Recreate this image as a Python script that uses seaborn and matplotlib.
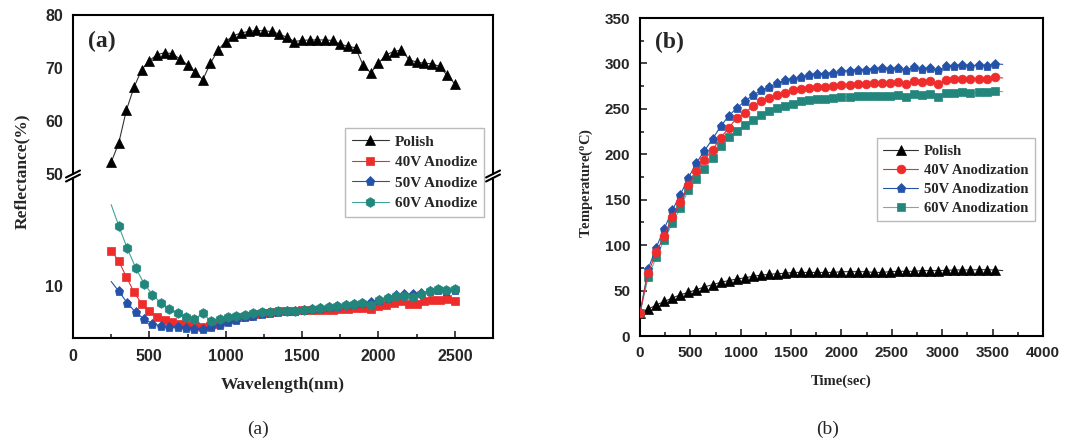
import matplotlib
matplotlib.use("Agg")
import matplotlib.pyplot as plt
import seaborn as sns
import pandas as pd
from matplotlib.lines import Line2D
from matplotlib.ticker import MultipleLocator, FixedLocator

# ---------------- data: panel (a) reflectance ----------------
wl_polish = list(range(250, 2501, 50))
refl_polish = [52.2, 55.9, 62.1, 66.4, 69.7, 71.4, 72.5, 72.9, 72.7, 71.7,
               70.6, 69.2, 67.8, 70.9, 73.4, 75.0, 76.1, 76.6, 76.9, 77.1,
               77.0, 76.9, 76.4, 75.8, 75.0, 75.2, 75.3, 75.3, 75.3, 75.2,
               74.5, 74.1, 73.8, 70.5, 69.1, 70.9, 72.5, 73.1, 73.4, 71.6,
               71.1, 70.9, 70.8, 70.3, 68.6, 67.0]
wl_40 = list(range(250, 2501, 50))
refl_40 = [13.3, 12.3, 10.8, 9.4, 8.3, 7.6, 7.06, 6.75, 6.56, 6.4,
           6.28, 6.2, 6.1, 6.2, 6.4, 6.66, 6.9, 7.03, 7.2, 7.34,
           7.44, 7.53, 7.6, 7.63, 7.66, 7.7, 7.7, 7.72, 7.75, 7.75,
           7.8, 7.84, 7.9, 7.9, 7.8, 8.06, 8.2, 8.4, 8.53, 8.3,
           8.3, 8.53, 8.62, 8.62, 8.75, 8.53]
wl_5060 = [250] + list(range(300, 2501, 55))
refl_50 = [10.4, 9.47, 8.4, 7.5, 6.9, 6.44, 6.25, 6.1, 6.1, 6.03, 5.97,
           5.97, 6.1, 6.3, 6.56, 6.8, 7.03, 7.2, 7.34, 7.44, 7.53,
           7.6, 7.66, 7.75, 7.8, 7.9, 7.97, 8.1, 8.2, 8.3, 8.4,
           8.44, 8.7, 8.84, 9.16, 9.2, 9.2, 9.3, 9.47, 9.6, 9.53, 9.6]
refl_60 = [17.6, 15.6, 13.5, 11.7, 10.2, 9.16, 8.4, 7.8, 7.4, 7.06, 6.9,
           7.4, 6.66, 6.9, 7.06, 7.2, 7.3, 7.4, 7.5, 7.56, 7.6,
           7.6, 7.66, 7.75, 7.84, 7.9, 8.0, 8.1, 8.2, 8.3, 8.4,
           8.2, 8.7, 8.84, 9.0, 9.0, 8.9, 9.25, 9.47, 9.7, 9.56, 9.7]

# ---------------- data: panel (b) temperature ----------------
time_s = list(range(0, 3601, 80))
temp_polish = [25, 29.5, 34, 38, 41.7, 45.4, 48, 51, 54, 56.5, 59, 61, 62.7,
               64, 65.7, 67, 67.8, 68.6, 69, 70, 70, 70, 70, 70, 70, 70.8,
               70.8, 70.8, 70.8, 70, 70, 70.8, 71.2, 71.2, 71.2, 72, 72, 72,
               72.3, 72.7, 72.7, 72.7, 73, 73, 72.7, 72]
temp_40 = [25, 69, 92, 110.4, 131, 147.5, 166, 181.5, 194, 205, 218, 229,
           240, 245.5, 252.8, 258.3, 262, 265.6, 267.4, 270.4, 271.8, 272.9,
           274, 274, 275.5, 275.9, 276.6, 277.7, 277.7, 278.4, 278.4, 278.4,
           279.2, 277.3, 280.3, 279.2, 280.3, 277.3, 282.1, 282.8, 283.2,
           282.8, 283.2, 283.2, 284.7, 284]
temp_50 = [25, 73.4, 97.2, 117.8, 138.3, 155.5, 174, 190.4, 204, 216.8,
           230.7, 242.1, 250.9, 258.3, 264.9, 270.4, 274, 278.4, 281.4,
           283.2, 285, 286.9, 288.7, 288.3, 289.4, 291.3, 292, 293.1, 293.1,
           293.9, 295, 294.2, 295, 292.4, 295.7, 294.2, 295, 292.4, 296.8,
           297.5, 298.3, 297.5, 297.9, 297.5, 299.4, 299]
temp_60 = [25, 64.6, 86.6, 105.7, 124, 140.8, 161, 172.8, 184, 196, 208.7,
           218.6, 226, 232.6, 238.1, 243.7, 247.2, 250.9, 253.5, 255.7,
           258.3, 260.1, 260.8, 260.8, 261.9, 263, 263, 263.8, 263.8, 264.5,
           264.5, 263.8, 265.6, 263, 266.3, 265.6, 266.3, 263, 267.4, 267.4,
           268.2, 267.4, 268.2, 268.2, 269.3, 269]

labels_a = ["Polish", "40V Anodize", "50V Anodize", "60V Anodize"]
labels_b = ["Polish", "40V Anodization", "50V Anodization", "60V Anodization"]
xticks_a = [0, 500, 1000, 1500, 2000, 2500]
yticks_a_top = [50, 60, 70, 80]
yticks_a_bot = [10]
xticks_b = [0, 500, 1000, 1500, 2000, 2500, 3000, 3500, 4000]
yticks_b = [0, 50, 100, 150, 200, 250, 300, 350]

# ---------------- style ----------------
sns.set_theme(style="white")
plt.rcParams["font.family"] = ["Liberation Sans", "DejaVu Sans"]
plt.rcParams["font.weight"] = "bold"
plt.rcParams["axes.linewidth"] = 1.5
SERIF = ["Liberation Serif", "DejaVu Serif"]

BLACK = "#000000"
RED = "#EE2C2C"
BLUE = "#2352A8"
TEAL = "#23867C"

W, H = 1087, 443
fig = plt.figure(figsize=(W / 100, H / 100), dpi=100)
fig.patch.set_facecolor("white")


def fx(px):
    return px / W


def fy(py):
    return 1 - py / H


def rect(l, t, r, b):
    return [fx(l), fy(b), (r - l) / W, (b - t) / H]


ax_top = fig.add_axes(rect(73, 15, 493, 174))
ax_bot = fig.add_axes(rect(73, 178, 493, 338))
ax_b = fig.add_axes(rect(640, 18, 1043, 336))


def draw(ax, x, y, color, marker, ms, z, lw=0.8, markevery=None, lc=None):
    kw = {}
    if markevery is not None:
        kw["markevery"] = markevery
    sns.lineplot(x=x, y=y, ax=ax, color=lc or color, marker=marker,
                 markersize=ms, markerfacecolor=color, markeredgecolor=color,
                 markeredgewidth=0.5, linewidth=lw, sort=False,
                 errorbar=None, zorder=z, **kw)
    return ax.lines[-1]


# ---- panel (a)
h_pol = draw(ax_top, wl_polish, refl_polish, BLACK, "^", 7, 3, lc="#333333")
h_40 = draw(ax_bot, wl_40, refl_40, RED, "s", 5.8, 3)
h_50 = draw(ax_bot, wl_5060, refl_50, BLUE, "p", 6.8, 4,
            markevery=list(range(1, len(wl_5060))))
h_60 = draw(ax_bot, wl_5060, refl_60, TEAL, "h", 7, 5,
            markevery=list(range(1, len(wl_5060))), lc="#3FA39A")

for ax in (ax_top, ax_bot):
    ax.set_xlim(0, 2750)
    ax.set_xlabel("")
    ax.set_ylabel("")
    ax.tick_params(which="both", direction="in", width=1.2, labelsize=11.5,
                   pad=7, top=False, right=False)
    ax.tick_params(which="major", length=5)
    ax.tick_params(which="minor", length=3)

ax_top.set_ylim(50, 80)
ax_top.yaxis.set_major_locator(FixedLocator(yticks_a_top))
ax_top.yaxis.set_minor_locator(MultipleLocator(5))
ax_top.spines["bottom"].set_visible(False)
ax_top.tick_params(which="both", bottom=False, labelbottom=False)

ax_bot.set_ylim(5.1, 20.1)
ax_bot.yaxis.set_major_locator(FixedLocator(yticks_a_bot))
ax_bot.yaxis.set_minor_locator(FixedLocator([15]))
ax_bot.spines["top"].set_visible(False)
ax_bot.xaxis.set_major_locator(FixedLocator(xticks_a))
ax_bot.xaxis.set_minor_locator(MultipleLocator(250))
ax_bot.tick_params(axis="x", which="both", bottom=True, pad=8)

for ax in (ax_top, ax_bot):
    for sp in ax.spines.values():
        sp.set_linewidth(1.5)
        sp.set_color("black")

# break marks
for xb, yb_top, yb_bot in ((73, 174, 178), (493, 174, 178)):
    for yy in (yb_top, yb_bot):
        fig.add_artist(Line2D([fx(xb - 7), fx(xb + 7)], [fy(yy + 3.5), fy(yy - 3.5)],
                              transform=fig.transFigure, color="black", lw=1.5))

fig.legend(handles=[h_pol, h_40, h_50, h_60], labels=labels_a,
           loc="upper right", bbox_to_anchor=(fx(484), fy(128)),
           bbox_transform=fig.transFigure, borderaxespad=0,
           prop={"family": SERIF, "weight": "bold", "size": 11},
           frameon=True, fancybox=False, edgecolor="#AAAAAA",
           handlelength=2.4, labelspacing=0.45, borderpad=0.45,
           handletextpad=0.4)

fig.text(fx(22), fy(171), "Reflectance(%)", rotation=90, ha="center",
         va="center", family=SERIF, weight="bold", fontsize=12.5)
fig.text(fx(283), fy(385), "Wavelength(nm)", ha="center", va="center",
         family=SERIF, weight="bold", fontsize=12.5)
fig.text(fx(88), fy(41), "(a)", ha="left", va="center", family=SERIF,
         weight="bold", fontsize=17)

# ---- panel (b)
nb = len(time_s)
evb = list(range(nb - 1))
g_pol = draw(ax_b, time_s, temp_polish, BLACK, "^", 6.5, 2, markevery=evb,
             lc="#333333")
g_60 = draw(ax_b, time_s, temp_60, TEAL, "s", 5.5, 3, markevery=evb,
            lc="#5FB5AD")
g_50 = draw(ax_b, time_s, temp_50, BLUE, "p", 6.8, 4, markevery=evb)
g_40 = draw(ax_b, time_s, temp_40, RED, "o", 6.3, 5, markevery=evb)

ax_b.set_xlim(0, 4000)
ax_b.set_ylim(0, 350)
ax_b.set_xlabel("")
ax_b.set_ylabel("")
ax_b.xaxis.set_major_locator(FixedLocator(xticks_b))
ax_b.xaxis.set_minor_locator(MultipleLocator(250))
ax_b.yaxis.set_major_locator(FixedLocator(yticks_b))
ax_b.yaxis.set_minor_locator(MultipleLocator(25))
ax_b.tick_params(which="both", direction="in", width=1.2, labelsize=11,
                 pad=7, top=False, right=False, bottom=True, left=True)
ax_b.tick_params(which="major", length=5)
ax_b.tick_params(which="minor", length=3)
for sp in ax_b.spines.values():
    sp.set_linewidth(1.5)
    sp.set_color("black")

fig.legend(handles=[g_pol, g_40, g_50, g_60], labels=labels_b,
           loc="upper right", bbox_to_anchor=(fx(1035), fy(138)),
           bbox_transform=fig.transFigure, borderaxespad=0,
           prop={"family": SERIF, "weight": "bold", "size": 10.5},
           frameon=True, fancybox=False, edgecolor="#AAAAAA",
           handlelength=2.4, labelspacing=0.4, borderpad=0.45,
           handletextpad=0.4)

fig.text(fx(586), fy(183), "Temperature($\\mathregular{^o}$C)", rotation=90,
         ha="center", va="center", family=SERIF, weight="bold", fontsize=10.5)
fig.text(fx(841), fy(381), "Time(sec)", ha="center", va="center",
         family=SERIF, weight="bold", fontsize=10.5)
fig.text(fx(655), fy(42), "(b)", ha="left", va="center", family=SERIF,
         weight="bold", fontsize=17)

# captions
fig.text(fx(258), fy(429), "(a)", ha="center", va="center", family=SERIF,
         weight="normal", fontsize=14)
fig.text(fx(828), fy(429), "(b)", ha="center", va="center", family=SERIF,
         weight="normal", fontsize=14)

fig.savefig("out.png", dpi=100, facecolor="white")
